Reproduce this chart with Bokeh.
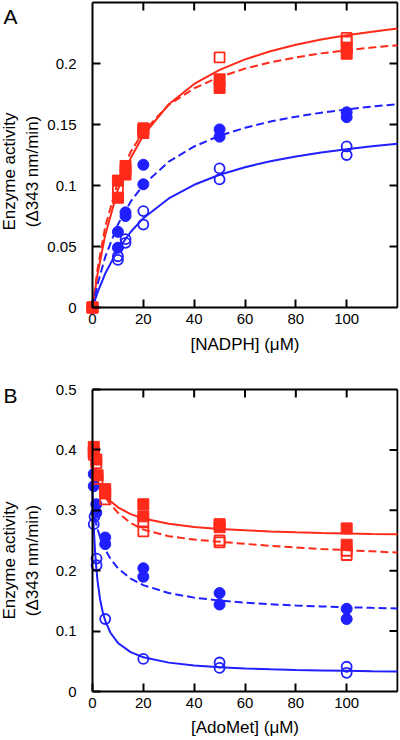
import math
from bokeh.plotting import figure
from bokeh.models import FixedTicker, Range1d
from bokeh.core.properties import value
from bokeh.layouts import column
from bokeh.embed import file_html
from bokeh.resources import INLINE

RED = "#ff2a1a"
BLUE = "#1f1fff"
FONT = "Liberation Sans"

# ---------------- Panel A : [NADPH] (uM) ----------------
a_x_ticks = [0, 20, 40, 60, 80, 100]
a_top_ticks = [20, 40, 60, 80, 100]
a_y_ticks = [0, 0.05, 0.1, 0.15, 0.2]
a_y_tick_labels = ["0", "0.05", "0.1", "0.15", "0.2"]
a_right_ticks = [0.05, 0.1, 0.15, 0.2]

a_red_filled_x = [0, 0, 10, 10, 13, 13, 20, 20, 50, 50, 100, 100]
a_red_filled_y = [0, 0, 0.104, 0.090, 0.116, 0.109, 0.146, 0.143, 0.187, 0.180, 0.213, 0.208]
a_red_open_x = [0, 10, 13, 20, 50, 100, 100]
a_red_open_y = [0, 0.097, 0.113, 0.147, 0.205, 0.221, 0.218]
a_blue_filled_x = [0, 10, 10, 13, 13, 20, 20, 50, 50, 100, 100]
a_blue_filled_y = [0, 0.062, 0.049, 0.078, 0.075, 0.117, 0.101, 0.146, 0.140, 0.160, 0.156]
a_blue_open_x = [0, 10, 10, 13, 13, 20, 20, 50, 50, 100, 100]
a_blue_open_y = [0, 0.042, 0.039, 0.056, 0.053, 0.079, 0.068, 0.114, 0.105, 0.132, 0.125]

a_fit_x = [0, 2, 5, 10, 15, 20, 30, 40, 50, 60, 70, 80, 90, 100, 110, 120]
a_fit_red_solid = [0, 0.0275, 0.0593, 0.0967, 0.1223, 0.1411, 0.1666, 0.1832, 0.1948, 0.2034, 0.2100, 0.2153, 0.2196, 0.2231, 0.2261, 0.2286]
a_fit_red_dashed = [0, 0.0316, 0.0660, 0.1033, 0.1274, 0.1442, 0.1661, 0.1797, 0.1890, 0.1958, 0.2010, 0.2050, 0.2083, 0.2108, 0.2131, 0.2150]
a_fit_blue_dashed = [0, 0.0190, 0.0414, 0.0681, 0.0867, 0.1005, 0.1195, 0.1320, 0.1408, 0.1473, 0.1524, 0.1564, 0.1597, 0.1624, 0.1647, 0.1667]
a_fit_blue_solid = [0, 0.0124, 0.0278, 0.0474, 0.0619, 0.0732, 0.0894, 0.1006, 0.1088, 0.1150, 0.1199, 0.1238, 0.1271, 0.1298, 0.1322, 0.1342]

# ---------------- Panel B : [AdoMet] (uM) ----------------
b_x_ticks = [0, 20, 40, 60, 80, 100]
b_top_ticks = [20, 40, 60, 80, 100]
b_y_ticks = [0, 0.1, 0.2, 0.3, 0.4, 0.5]
b_y_tick_labels = ["0", "0.1", "0.2", "0.3", "0.4", "0.5"]
b_right_ticks = [0.1, 0.2, 0.3, 0.4]

b_red_filled_x = [0.5, 0.5, 1.5, 2, 5, 5, 20, 20, 50, 50, 100, 100]
b_red_filled_y = [0.405, 0.396, 0.384, 0.358, 0.335, 0.328, 0.310, 0.290, 0.277, 0.272, 0.270, 0.243]
b_red_open_x = [0.5, 1.5, 2, 5, 20, 20, 50, 50, 100, 100]
b_red_open_y = [0.392, 0.378, 0.352, 0.318, 0.280, 0.265, 0.250, 0.247, 0.233, 0.226]
b_blue_filled_x = [0.5, 0.5, 1.5, 1.5, 5, 5, 20, 20, 50, 50, 100, 100]
b_blue_filled_y = [0.360, 0.340, 0.310, 0.296, 0.255, 0.244, 0.204, 0.190, 0.163, 0.144, 0.137, 0.120]
b_blue_open_x = [0.8, 0.5, 1.6, 1.6, 5, 20, 50, 50, 100, 100]
b_blue_open_y = [0.290, 0.277, 0.220, 0.209, 0.120, 0.054, 0.048, 0.039, 0.041, 0.031]

b_fit_x = [0, 0.5, 1, 1.5, 2, 3, 4, 5, 7, 10, 15, 20, 30, 40, 50, 60, 70, 80, 90, 100, 110, 120]
b_fit_red_solid = [0.370, 0.3631, 0.3570, 0.3515, 0.3466, 0.3381, 0.3310, 0.3250, 0.3154, 0.3050, 0.2937, 0.2864, 0.2776, 0.2725, 0.2691, 0.2668, 0.2650, 0.2636, 0.2626, 0.2617, 0.2609, 0.2603]
b_fit_red_dashed = [0.375, 0.368, 0.361, 0.355, 0.349, 0.339, 0.330, 0.322, 0.310, 0.296, 0.279, 0.268, 0.257, 0.2515, 0.248, 0.2445, 0.241, 0.2385, 0.236, 0.234, 0.232, 0.230]
b_fit_blue_dashed = [0.307, 0.2958, 0.2858, 0.2770, 0.2691, 0.2556, 0.2444, 0.2350, 0.2201, 0.2041, 0.1870, 0.1761, 0.1630, 0.1554, 0.1505, 0.1470, 0.1444, 0.1424, 0.1408, 0.1396, 0.1385, 0.1376]
b_fit_blue_solid = [0.330, 0.2719, 0.2326, 0.2042, 0.1827, 0.1524, 0.1320, 0.1173, 0.0977, 0.0804, 0.0651, 0.0567, 0.0478, 0.0431, 0.0402, 0.0382, 0.0368, 0.0357, 0.0349, 0.0342, 0.0336, 0.0332]

Y_LINE1 = "Enzyme activity"
Y_LINE2 = "(\u0394343 nm/min)"

# ---------------- layout (pixels) ----------------
XMAX = 120
FIG_W = 400
FRAME_W = 398            # the frame covers the whole figure except 2px on the right
X0_PX = 92               # pixel column of x = 0 (the left axis)
TICK_PX = 8
SX = (FRAME_W - X0_PX - 1) / XMAX
XV0 = -X0_PX / SX
XV1 = XV0 + FRAME_W / SX


def px_to_x(px):
    return XV0 + px / SX


def style_axis(ax):
    ax.axis_line_width = 2
    ax.axis_line_color = "black"
    ax.major_tick_in = TICK_PX
    ax.major_tick_out = 0
    ax.major_tick_line_width = 2
    ax.major_tick_line_color = "black"
    ax.minor_tick_in = 0
    ax.minor_tick_out = 0
    ax.major_label_text_font = FONT
    ax.major_label_text_font_size = "15px"
    ax.major_label_text_color = "black"
    ax.axis_label_text_font = FONT
    ax.axis_label_text_font_style = "normal"
    ax.axis_label_text_color = "black"
    ax.axis_label_text_font_size = "17px"


def make_panel(height, ymax, top_px, bottom_px, x_ticks, top_ticks, y_ticks, y_labels,
               right_ticks, xlabel, xlabel_standoff, letter, letter_top_px, ylab_center_px):
    # top_px: pixel row of y = ymax, bottom_px: pixel row of y = 0 (within this figure)
    sy = (bottom_px - top_px) / ymax
    ytop = ymax + top_px / sy
    ybot = -(height - bottom_px) / sy
    p = figure(width=FIG_W, height=height, x_range=Range1d(XV0, XV1), y_range=Range1d(ybot, ytop),
               output_backend="svg", toolbar_location=None,
               min_border_left=0, min_border_right=FIG_W - FRAME_W,
               min_border_top=0, min_border_bottom=0)
    p.grid.visible = False
    p.outline_line_color = None
    p.background_fill_color = "white"
    p.border_fill_color = "white"

    xa = p.xaxis[0]
    ya = p.yaxis[0]
    style_axis(xa)
    style_axis(ya)
    xa.ticker = FixedTicker(ticks=x_ticks)
    xa.fixed_location = 0
    xa.bounds = (0, XMAX)
    xa.major_label_standoff = 6
    xa.axis_label = xlabel
    xa.axis_label_standoff = xlabel_standoff
    ya.ticker = FixedTicker(ticks=y_ticks)
    ya.major_label_overrides = {t: s for t, s in zip(y_ticks, y_labels)}
    ya.major_label_standoff = 16
    ya.fixed_location = 0
    ya.bounds = (0, ymax)

    # frame top and right edges
    p.segment(x0=[0, XMAX], y0=[ymax, 0], x1=[XMAX, XMAX], y1=[ymax, ymax],
              line_color="black", line_width=2)
    # inward ticks on the top and right edges
    p.segment(x0=top_ticks, y0=[ymax] * len(top_ticks), x1=top_ticks,
              y1=[ymax - TICK_PX / sy] * len(top_ticks), line_color="black", line_width=2)
    p.segment(x0=[XMAX] * len(right_ticks), y0=right_ticks,
              x1=[XMAX - TICK_PX / SX] * len(right_ticks), y1=right_ticks,
              line_color="black", line_width=2)

    # panel letter
    p.text(x=[px_to_x(3)], y=[ytop - letter_top_px / sy], text=[letter],
           text_align="left", text_baseline="top",
           text_font=value(FONT), text_font_size=value("21px"), text_color="black")
    # two-line y-axis title
    yc = ytop - ylab_center_px / sy
    p.text(x=[px_to_x(9), px_to_x(32)], y=[yc, yc], text=[Y_LINE1, Y_LINE2],
           angle=math.pi / 2, text_align="center", text_baseline="middle",
           text_font=value(FONT), text_font_size=value("17px"), text_color="black")
    return p


def draw(p, fit_x, fits, pts):
    for ys, color, dash in fits:
        p.line(fit_x, ys, line_color=color, line_width=2, line_dash=dash)
    for xs, ys, color, marker, filled in pts:
        if filled:
            p.scatter(xs, ys, marker=marker, size=11, fill_color=color, line_color=color, line_width=1)
        else:
            p.scatter(xs, ys, marker=marker, size=10, fill_color=None, line_color=color, line_width=1.8)


# Panel A: figure rows 0..360, y = 0.25 at row 2, y = 0 at row 307
pA = make_panel(360, 0.25, 2, 307, a_x_ticks, a_top_ticks, a_y_ticks, a_y_tick_labels,
                a_right_ticks, "[NADPH] (\u03bcM)", 8, "A", 4, 171)
draw(pA, a_fit_x,
     [(a_fit_red_solid, RED, "solid"), (a_fit_red_dashed, RED, "8 4"),
      (a_fit_blue_dashed, BLUE, "8 4"), (a_fit_blue_solid, BLUE, "solid")],
     [(a_blue_open_x, a_blue_open_y, BLUE, "circle", False),
      (a_blue_filled_x, a_blue_filled_y, BLUE, "circle", True),
      (a_red_open_x, a_red_open_y, RED, "square", False),
      (a_red_filled_x, a_red_filled_y, RED, "square", True)])

# Panel B: figure rows 360..738, y = 0.5 at row 389 (29), y = 0 at row 691 (331)
pB = make_panel(378, 0.5, 29, 331, b_x_ticks, b_top_ticks, b_y_ticks, b_y_tick_labels,
                b_right_ticks, "[AdoMet] (\u03bcM)", 7, "B", 23, 200)
draw(pB, b_fit_x,
     [(b_fit_red_solid, RED, "solid"), (b_fit_red_dashed, RED, "8 4"),
      (b_fit_blue_dashed, BLUE, "8 4"), (b_fit_blue_solid, BLUE, "solid")],
     [(b_blue_open_x, b_blue_open_y, BLUE, "circle", False),
      (b_blue_filled_x, b_blue_filled_y, BLUE, "circle", True),
      (b_red_open_x, b_red_open_y, RED, "square", False),
      (b_red_filled_x, b_red_filled_y, RED, "square", True)])

layout = column(pA, pB)
open("out.html", "w").write(file_html(layout, INLINE))
